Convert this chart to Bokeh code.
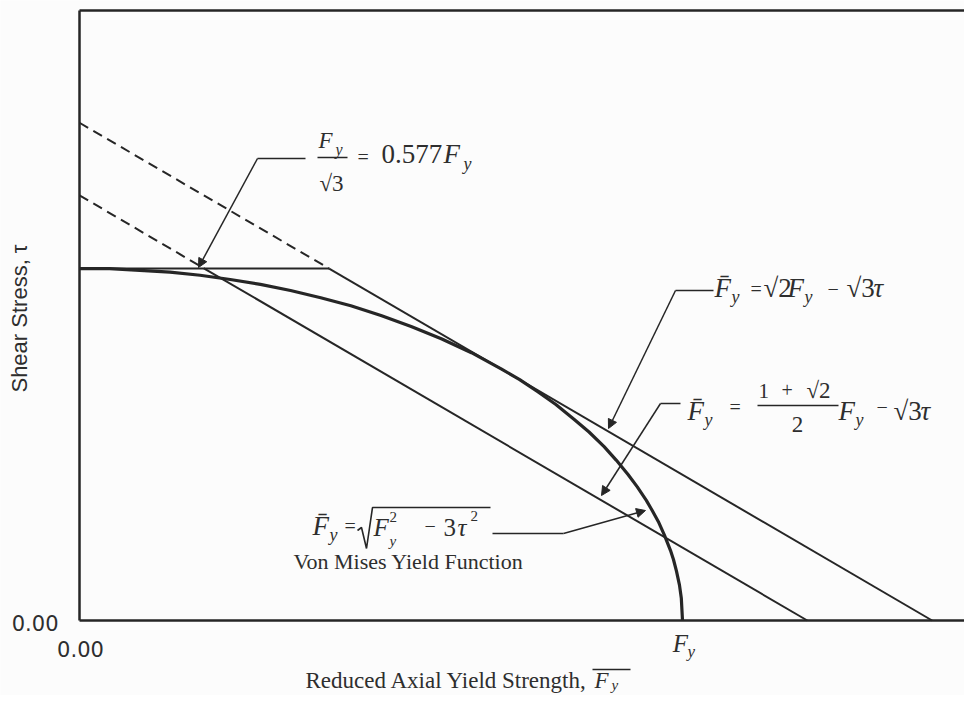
from bokeh.plotting import figure
from bokeh.models import Label, Arrow, NormalHead, Range1d
from bokeh.embed import file_html
from bokeh.resources import INLINE

# ---- data (in units of F_y) ----
curve_fbar = [0.00, 0.05, 0.10, 0.15, 0.20, 0.25, 0.30, 0.35, 0.40, 0.45, 0.50, 0.55, 0.60, 0.65,
              0.70, 0.73, 0.76, 0.79, 0.82, 0.845, 0.87, 0.89, 0.91, 0.925, 0.94, 0.95, 0.96,
              0.97, 0.98, 0.985, 0.99, 0.995, 0.998, 1.00]
curve_tau = [0.577, 0.577, 0.574, 0.571, 0.566, 0.559, 0.551, 0.541, 0.529, 0.516, 0.500, 0.482,
             0.462, 0.439, 0.412, 0.395, 0.375, 0.354, 0.330, 0.309, 0.285, 0.263, 0.239, 0.219,
             0.197, 0.180, 0.162, 0.140, 0.115, 0.100, 0.081, 0.058, 0.037, 0.0]
upper_fbar = [0.0, 0.414, 1.414]
upper_tau = [0.816, 0.577, 0.0]
lower_fbar = [0.0, 0.207, 1.207]
lower_tau = [0.697, 0.577, 0.0]
cap_fbar = [0.0, 0.414]
cap_tau = [0.577, 0.577]
x_ticks = [0.0]
y_ticks = [0.0]
tau_top = 1.0
fy_tick = 1.0

INK = "#262626"
TXT = "#2e2e2e"
BG = "#fcfcfc"
SERIF = "Liberation Serif"
SANS = "DejaVu Sans"

W, H = 964, 695

# canvas pixel -> data helpers (frame origin at px 79, py 620; 603 px / F_y horizontally, 610 px / F_y vertically)
def X(px):
    return (px - 79) / 603.0

def Y(py):
    return (620 - py) / 610.0

p = figure(width=W, height=H, x_range=Range1d(X(0), X(W)), y_range=Range1d(Y(H), Y(0)),
           output_backend="svg", toolbar_location=None,
           x_axis_location=None, y_axis_location=None,
           min_border_left=0, min_border_right=0, min_border_top=0, min_border_bottom=0,
           background_fill_color=BG, border_fill_color=BG, outline_line_color=None)
p.grid.visible = False

x_end = X(W)

# ---- axes / frame ----
p.line([0, 0], [0, tau_top], line_color=INK, line_width=2.5)
p.line([0, x_end], [0, 0], line_color=INK, line_width=2.5)
p.line([0, x_end], [tau_top, tau_top], line_color=INK, line_width=2.5)

def _label(x, y, s, size, style, align, font, angle):
    p.add_layout(Label(x=x, y=y, text=s, text_font=font, text_font_size=f"{size}px",
                       text_font_style=style, text_align=align, text_baseline="middle",
                       text_color=TXT, angle=angle))

def T(px, base_py, s, size, style="normal", align="left", font=SERIF, x=None):
    """text whose baseline sits at base_py"""
    mid = base_py - 0.3375 * size
    _label(X(px) if x is None else x, Y(mid), s, size, style, align, font, 0.0)

def S(px, center_py, s, size=20):
    """operator symbol (=, -) whose visual centre sits at center_py"""
    _label(X(px), Y(center_py - 0.0775 * size), s, size, "normal", "left", SERIF, 0.0)

def M(x, y, s, size, align="left", font=SANS, angle=0.0):
    """text centred vertically on (x, y) given in data units"""
    _label(x, y, s, size, "normal", align, font, angle)

def L(pts, w=1.5):
    p.line([X(a) for a, b in pts], [Y(b) for a, b in pts], line_color=INK, line_width=w)

def A(x0, y0, x1, y1):
    p.add_layout(Arrow(end=NormalHead(size=9, fill_color=INK, line_color=INK, line_width=1),
                       x_start=X(x0), y_start=Y(y0), x_end=X(x1), y_end=Y(y1),
                       line_color=INK, line_width=1.5))

# tick labels
for t in y_ticks:
    M(X(58), t - 2 / 610.0, f"{t:.2f}", 21, align="right")
for t in x_ticks:
    M(t + 1 / 603.0, Y(648), f"{t:.2f}", 21, align="center")
T(0, 651, "F", 25, "italic", align="center", x=fy_tick - 2 / 603.0)
T(687, 657, "y", 17, "italic")

# ---- data lines ----
p.line(upper_fbar[:2], upper_tau[:2], line_color=INK, line_width=2, line_dash="10 6")
p.line(upper_fbar[1:], upper_tau[1:], line_color=INK, line_width=2)
p.line(lower_fbar[:2], lower_tau[:2], line_color=INK, line_width=2, line_dash="10 6")
p.line(lower_fbar[1:], lower_tau[1:], line_color=INK, line_width=2)
p.line(cap_fbar, cap_tau, line_color=INK, line_width=2)
p.line(curve_fbar, curve_tau, line_color=INK, line_width=3.2)

# ---- annotation 1: Fy/sqrt3 = 0.577 Fy ----
L([(305, 158), (257, 158)])
A(257, 158, 198, 267)
T(318, 148, "F", 23, "italic")
T(335, 154, "y", 16, "italic")
L([(317, 157), (347, 157)], 1.5)
T(319, 191, "\u221a3", 23)
S(357, 158, "=")
T(381, 163, "0.577", 27)
T(443, 163, "F", 27, "italic")
T(463, 170, "y", 18, "italic")

# ---- annotation 2: Fbar = sqrt2 Fy - sqrt3 tau ----
L([(713, 290), (675, 290)])
A(675, 290, 608, 428)
T(714, 297, "F\u0304", 27, "italic")
T(731, 303, "y", 18, "italic")
S(750, 290, "=")
T(763, 297, "\u221a2", 27)
T(787, 297, "F", 27, "italic")
T(804, 303, "y", 18, "italic")
S(827, 290, "\u2212")
T(846, 297, "\u221a3", 27)
T(873, 297, "\u03c4", 27, "italic")

# ---- annotation 3: Fbar = (1+sqrt2)/2 Fy - sqrt3 tau ----
L([(680, 403), (660, 403)])
A(660, 403, 601, 495)
T(687, 420, "F\u0304", 27, "italic")
T(704, 426, "y", 18, "italic")
S(729, 408, "=")
T(758, 398, "1", 21)
S(781, 391, "+")
T(806, 398, "\u221a2", 23)
L([(757, 405), (838, 405)], 1.5)
T(797, 432, "2", 23, align="center")
T(838, 420, "F", 27, "italic")
T(855, 426, "y", 18, "italic")
S(876, 408, "\u2212")
T(893, 420, "\u221a3", 27)
T(920, 420, "\u03c4", 27, "italic")

# ---- annotation 4: von Mises ----
T(312, 535, "F\u0304", 27, "italic")
T(329, 541, "y", 18, "italic")
S(344, 527, "=")
L([(357, 530), (361, 527), (366, 548), (372, 507), (490, 507)], 1.6)
T(373, 535, "F", 25, "italic")
T(389, 522, "2", 15)
T(389, 546, "y", 15, "italic")
S(424, 527, "\u2212")
T(443, 535, "3", 25)
T(457, 535, "\u03c4", 25, "italic")
T(470, 521, "2", 15)
T(293, 568, "Von Mises Yield Function", 22)
L([(492, 533), (563, 533)])
A(563, 533, 645, 510)

# ---- axis titles ----
T(305, 688, "Reduced Axial Yield Strength,", 23)
T(594, 688, "F", 23, "italic")
T(611, 690, "y", 15, "italic")
L([(592, 669), (630, 669)], 1.5)
M(X(19), Y(318), "Shear Stress, \u03c4", 22, align="center", font="Liberation Sans", angle=1.5708)

open("out.html", "w").write(file_html(p, INLINE))
